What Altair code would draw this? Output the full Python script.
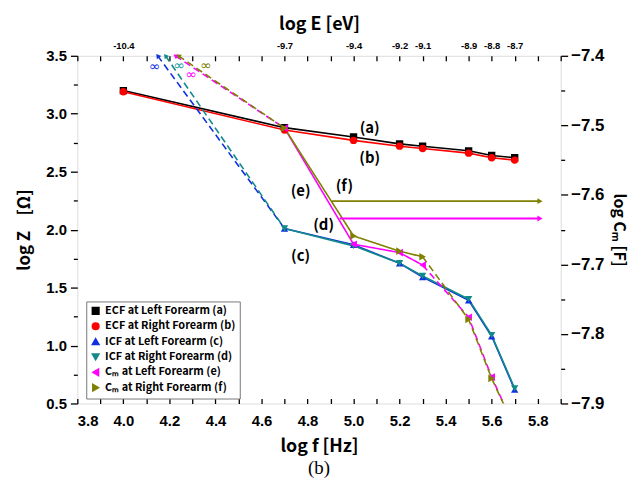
import altair as alt
import pandas as pd

# ---------------- data ----------------
freq = [4.0, 4.7, 5.0, 5.2, 5.3, 5.5, 5.6, 5.7]
energy_labels = ["-10.4", "-9.7", "-9.4", "-9.2", "-9.1", "-8.9", "-8.8", "-8.7"]

ecf_left = [3.20, 2.88, 2.80, 2.74, 2.72, 2.68, 2.64, 2.62]
ecf_right = [3.19, 2.86, 2.77, 2.72, 2.70, 2.66, 2.62, 2.60]

icf_freq = [4.7, 5.0, 5.2, 5.3, 5.5, 5.6, 5.7]
icf_left = [2.01, 1.87, 1.71, 1.59, 1.39, 1.08, 0.62]
icf_right = [2.01, 1.86, 1.71, 1.60, 1.40, 1.09, 0.63]

cm_freq = [4.7, 5.0, 5.2, 5.3, 5.5, 5.6, 5.7]
cm_left = [-7.504, -7.671, -7.683, -7.701, -7.776, -7.862, -7.935]
cm_right = [-7.504, -7.659, -7.681, -7.689, -7.779, -7.864, -7.935]
cm_dash_start = 5.3  # segments beyond this frequency are dashed

series = ["ECF at Left Forearm (a)", "ECF at Right Forearm (b)",
          "ICF at Left Forearm (c)", "ICF at Right Forearm (d)",
          "Cₘ at Left Forearm (e)", "Cₘ at Right Forearm (f)"]
colors = ["#000000", "#ff0000", "#1030e0", "#138a8a", "#ff00ff", "#808000"]
shapes = ["square", "circle", "triangle-up", "triangle-down", "triangle-left", "triangle-right"]

# "infinity" extrapolation tips (x where dashed line meets the top frame)
icf_inf_x = [4.149, 4.183]
icf_inf_y = [3.5, 3.5]
cm_inf_x = [4.226, 4.239]
cm_inf_y = [-7.4, -7.4]
inf_text_x = [4.136, 4.243, 4.295, 4.359]
inf_text_y = [3.40, 3.41, 3.33, 3.41]
inf_text_color = ["#1030e0", "#20a0a0", "#ff00ff", "#808000"]

# annotation letters (left-axis coordinates)
ann_text = ["(a)", "(b)", "(c)", "(d)", "(e)", "(f)"]
ann_x = [5.07, 5.07, 4.77, 4.87, 4.77, 4.96]
ann_y = [2.88, 2.62, 1.77, 2.04, 2.33, 2.38]

# horizontal arrows towards the right (Cm) axis
arrow_series = ["Cₘ at Right Forearm (f)", "Cₘ at Left Forearm (e)"]
arrow_x1 = [4.906, 4.94]
arrow_x2 = [5.81, 5.81]
arrow_y = [-7.609, -7.634]

# ---------------- tables ----------------
rows = []
for f, v in zip(freq, ecf_left):
    rows.append({"series": series[0], "x": f, "y": v})
for f, v in zip(freq, ecf_right):
    rows.append({"series": series[1], "x": f, "y": v})
for f, v in zip(icf_freq, icf_left):
    rows.append({"series": series[2], "x": f, "y": v})
for f, v in zip(icf_freq, icf_right):
    rows.append({"series": series[3], "x": f, "y": v})
df_z = pd.DataFrame(rows)

rows = []
for s, vals in [(series[4], cm_left), (series[5], cm_right)]:
    for f, v in zip(cm_freq, vals):
        if f <= cm_dash_start:
            rows.append({"series": s, "seg": "solid", "key": s + "solid", "x": f, "y": v})
        if f >= cm_dash_start:
            rows.append({"series": s, "seg": "dashed", "key": s + "dashed", "x": f, "y": v})
df_cm_line = pd.DataFrame(rows)
df_cm_pts = pd.DataFrame(
    [{"series": series[4], "x": f, "y": v} for f, v in zip(cm_freq, cm_left)]
    + [{"series": series[5], "x": f, "y": v} for f, v in zip(cm_freq, cm_right)]
)

rows = []
for s, vals, tx, ty in [(series[2], icf_left, icf_inf_x[0], icf_inf_y[0]),
                        (series[3], icf_right, icf_inf_x[1], icf_inf_y[1])]:
    rows.append({"series": s, "x": icf_freq[0], "y": vals[0]})
    rows.append({"series": s, "x": tx, "y": ty})
df_icf_inf = pd.DataFrame(rows)
df_icf_tip = pd.DataFrame({"series": series[2:4], "x": icf_inf_x, "y": icf_inf_y})

rows = []
for s, vals, tx, ty in [(series[4], cm_left, cm_inf_x[0], cm_inf_y[0]),
                        (series[5], cm_right, cm_inf_x[1], cm_inf_y[1])]:
    rows.append({"series": s, "x": cm_freq[0], "y": vals[0]})
    rows.append({"series": s, "x": tx, "y": ty})
df_cm_inf = pd.DataFrame(rows)
df_cm_tip = pd.DataFrame({"series": series[4:6], "x": cm_inf_x, "y": cm_inf_y})

df_inf_text = pd.DataFrame({"x": inf_text_x, "y": inf_text_y, "c": inf_text_color, "t": ["∞"] * 4})
df_ann = pd.DataFrame({"x": ann_x, "y": ann_y, "t": ann_text})
df_arrow = pd.DataFrame({"series": arrow_series, "x": arrow_x1, "x2": arrow_x2, "y": arrow_y})

# ---------------- encodings ----------------
BOLD_FONT = "Noto Sans CJK KR"
NUM_FONT = "Liberation Sans"
XS = alt.Scale(domain=[3.8, 5.9], nice=False, zero=False)
YL = alt.Scale(domain=[0.5, 3.5], nice=False, zero=False)
YR = alt.Scale(domain=[-7.9, -7.4], nice=False, zero=False)

legend = alt.Legend(
    title=None, orient="none", legendX=9, legendY=248,
    labelFont=BOLD_FONT, labelFontSize=11, labelFontWeight="bold", labelColor="#000",
    symbolSize=45, rowPadding=2.5, padding=4, strokeColor="#777777",
    fillColor="white", symbolStrokeWidth=1.5, labelLimit=300,
)
color_enc = alt.Color("series:N", scale=alt.Scale(domain=series, range=colors), legend=legend)
shape_enc = alt.Shape("series:N", scale=alt.Scale(domain=series, range=shapes), legend=legend)

tick_vals_x = [round(3.8 + 0.1 * i, 1) for i in range(22)]
label_vals_x = [round(3.8 + 0.2 * i, 1) for i in range(11)]
top_expr = " : ".join(
    f"abs(datum.value - {f}) < 0.01 ? '{lab}'" for f, lab in zip(freq, energy_labels)
) + " : ''"

axis_bottom = alt.Axis(
    orient="bottom", values=label_vals_x, format=".1f", ticks=False, domain=False,
    labelFont=NUM_FONT, labelFontSize=15, labelFontWeight="bold", labelPadding=10,
    title="log f [Hz]", titleFont=BOLD_FONT, titleFontSize=18, titleFontWeight="bold",
    titlePadding=9, grid=False,
)
axis_top = alt.Axis(
    orient="top", values=freq, labelExpr=top_expr, ticks=False, domain=False,
    labelFont=NUM_FONT, labelFontSize=9.5, labelFontWeight="bold", labelPadding=5,
    title="log E [eV]", titleFont=BOLD_FONT, titleFontSize=18, titleFontWeight="bold",
    titlePadding=8, grid=False, labelOverlap=False,
)
# inward tick marks on bottom and top frames
axis_ticks_bottom_in = alt.Axis(
    orient="top", offset=-351, values=tick_vals_x, labels=False, domain=False,
    tickSize=5, tickWidth=1.3, tickColor="black", title=None, grid=False,
)
axis_ticks_top_in = alt.Axis(
    orient="bottom", offset=-351, values=tick_vals_x, labels=False, domain=False,
    tickSize=5, tickWidth=1.3, tickColor="black", title=None, grid=False,
)

left_vals = [round(0.5 + 0.25 * i, 2) for i in range(13)]
axis_left = alt.Axis(
    orient="left", values=left_vals,
    labelExpr="abs(datum.value*2 - round(datum.value*2)) < 0.01 ? format(datum.value, '.1f') : ''",
    tickSize={"condition": {"test": "abs(datum.value*2 - round(datum.value*2)) < 0.01", "value": 7}, "value": 4},
    tickWidth=1.3, tickColor="black", domain=False, grid=False,
    labelFont=NUM_FONT, labelFontSize=15, labelFontWeight="bold", labelPadding=4,
    title="log Z\u00a0\u00a0\u00a0\u00a0[Ω]", titleFont=BOLD_FONT, titleFontSize=17, titleFontWeight="bold",
    titlePadding=12,
)
right_vals = [round(-7.9 + 0.05 * i, 2) for i in range(11)]
axis_right = alt.Axis(
    orient="right", values=right_vals,
    labelExpr="abs(datum.value*10 - round(datum.value*10)) < 0.01 ? format(datum.value, '.1f') : ''",
    tickSize={"condition": {"test": "abs(datum.value*10 - round(datum.value*10)) < 0.01", "value": 7}, "value": 4},
    tickWidth=1.3, tickColor="black", domain=False, grid=False,
    labelFont=NUM_FONT, labelFontSize=17, labelFontWeight="bold", labelPadding=3,
    title="log Cₘ\u00a0[F]", titleFont=BOLD_FONT, titleFontSize=16, titleFontWeight="bold",
    titleAngle=90, titlePadding=7,
)

# ---------------- layers ----------------
z_lines = alt.Chart(df_z).mark_line(clip=True, strokeWidth=1.6).encode(
    x=alt.X("x:Q", scale=XS, axis=axis_bottom),
    y=alt.Y("y:Q", scale=YL, axis=axis_left),
    color=color_enc, detail="series:N", order="x:Q",
)
z_pts = alt.Chart(df_z).mark_point(filled=True, size=55, opacity=1, clip=True).encode(
    x=alt.X("x:Q", scale=XS, axis=None),
    y=alt.Y("y:Q", scale=YL, axis=None),
    color=color_enc, shape=shape_enc,
)
cm_lines = alt.Chart(df_cm_line).mark_line(clip=True, strokeWidth=1.6).encode(
    x=alt.X("x:Q", scale=XS, axis=axis_top),
    y=alt.Y("y:Q", scale=YR, axis=axis_right),
    color=color_enc, detail="key:N", order="x:Q",
    strokeDash=alt.StrokeDash("seg:N", scale=alt.Scale(domain=["solid", "dashed"], range=[[1, 0], [7, 4]]), legend=None),
)
cm_pts = alt.Chart(df_cm_pts).mark_point(filled=True, size=60, opacity=1, clip=True).encode(
    x=alt.X("x:Q", scale=XS, axis=None),
    y=alt.Y("y:Q", scale=YR, axis=None),
    color=color_enc, shape=shape_enc,
)
icf_inf = alt.Chart(df_icf_inf).mark_line(clip=True, strokeWidth=1.6, strokeDash=[7, 4]).encode(
    x=alt.X("x:Q", scale=XS, axis=axis_ticks_bottom_in),
    y=alt.Y("y:Q", scale=YL, axis=None),
    color=color_enc, detail="series:N",
)
icf_tip = alt.Chart(df_icf_tip).mark_point(shape="triangle-up", filled=True, size=30, angle=324, opacity=1).encode(
    x=alt.X("x:Q", scale=XS, axis=None),
    y=alt.Y("y:Q", scale=YL, axis=None),
    color=color_enc,
)
cm_inf = alt.Chart(df_cm_inf).mark_line(clip=True, strokeWidth=1.6, strokeDash=[7, 4]).encode(
    x=alt.X("x:Q", scale=XS, axis=axis_ticks_top_in),
    y=alt.Y("y:Q", scale=YR, axis=None),
    color=color_enc, detail="series:N",
)
cm_tip = alt.Chart(df_cm_tip).mark_point(shape="triangle-up", filled=True, size=30, angle=304, opacity=1).encode(
    x=alt.X("x:Q", scale=XS, axis=None),
    y=alt.Y("y:Q", scale=YR, axis=None),
    color=color_enc,
)
inf_txt = alt.Chart(df_inf_text).mark_text(fontSize=14, font="DejaVu Sans").encode(
    x=alt.X("x:Q", scale=XS, axis=None),
    y=alt.Y("y:Q", scale=YL, axis=None),
    text="t:N",
    color=alt.Color("c:N", scale=None),
)
ann = alt.Chart(df_ann).mark_text(fontSize=15, font=BOLD_FONT, fontWeight="bold", color="black").encode(
    x=alt.X("x:Q", scale=XS, axis=None),
    y=alt.Y("y:Q", scale=YL, axis=None),
    text="t:N",
)
arrows = alt.Chart(df_arrow).mark_rule(strokeWidth=2).encode(
    x=alt.X("x:Q", scale=XS, axis=None),
    x2="x2:Q",
    y=alt.Y("y:Q", scale=YR, axis=None),
    color=color_enc,
)
arrow_heads = alt.Chart(df_arrow).mark_point(shape="triangle-right", filled=True, size=35, opacity=1).encode(
    x=alt.X("x2:Q", scale=XS, axis=None),
    y=alt.Y("y:Q", scale=YR, axis=None),
    color=color_enc,
)

chart = alt.layer(
    z_lines, cm_lines, icf_inf, cm_inf, arrows, arrow_heads, icf_tip, cm_tip,
    z_pts, cm_pts, inf_txt, ann,
).resolve_scale(
    y="independent"
).resolve_axis(
    x="independent", y="independent"
).properties(
    width=488, height=351,
    autosize=alt.AutoSizeParams(type="none"),
    padding={"left": 70, "top": 46, "right": 75, "bottom": 76},
    title=alt.TitleParams("(b)", orient="bottom", font="Liberation Serif", fontSize=19,
                          fontWeight="normal", color="black", offset=4),
).configure_view(
    stroke="black", strokeWidth=1.6
).configure(
    background="white"
)

chart.save("out.html", embed_options={"renderer": "svg", "actions": False})
